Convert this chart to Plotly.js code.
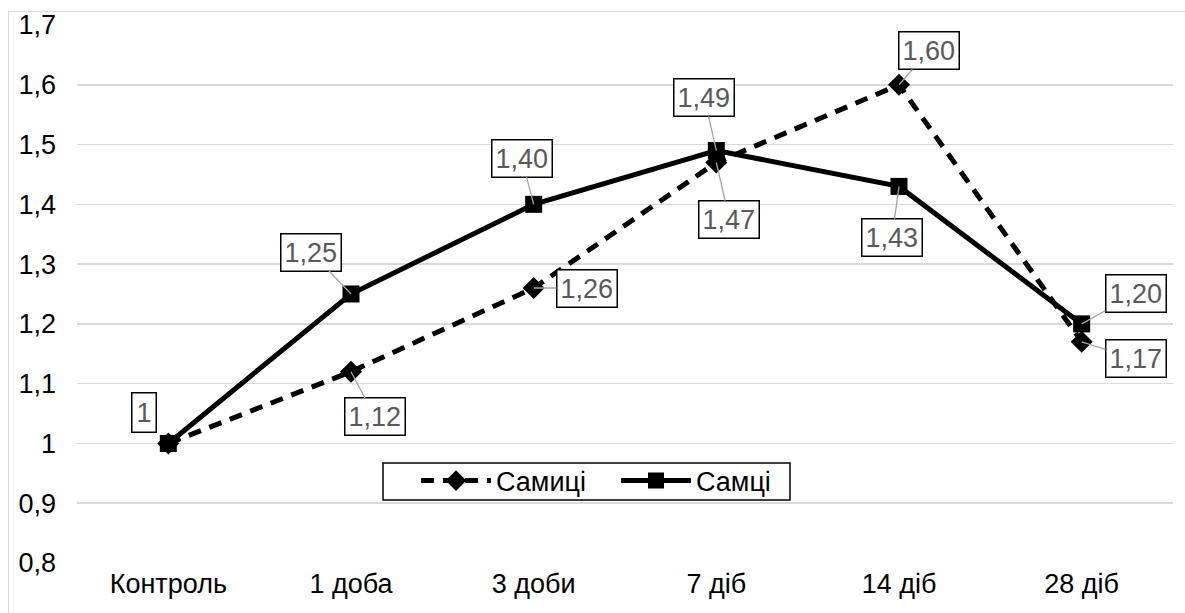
<!DOCTYPE html>
<html>
<head>
<meta charset="utf-8">
<script src="https://cdn.plot.ly/plotly-3.0.1.min.js"></script>
<style>
html,body{margin:0;padding:0;background:#fff;overflow:hidden;}
#frame{position:absolute;left:8px;top:11px;width:1300px;height:800px;border-left:1px solid #d9d9d9;border-top:1px solid #d9d9d9;pointer-events:none;z-index:5;}
#chart{position:absolute;left:0;top:0;width:1185px;height:613px;}
</style>
</head>
<body>
<div id="chart"></div>
<div id="frame"></div>
<script>
const categories = ['Контроль', '1 доба', '3 доби', '7 діб', '14 діб', '28 діб'];
const femaleName = 'Самиці';
const maleName = 'Самці';
const femaleValues = [1, 1.12, 1.26, 1.47, 1.60, 1.17];
const maleValues = [1, 1.25, 1.40, 1.49, 1.43, 1.20];
const femaleLabels = ['1', '1,12', '1,26', '1,47', '1,60', '1,17'];
const maleLabels = ['1', '1,25', '1,40', '1,49', '1,43', '1,20'];

// label offsets (pixels) relative to point; null = no label
const femaleOffsets = [null, [24, 45], [53, 0], [13, 57], [30, -34], [54, 17]];
const maleOffsets = [[-24, -31], [-40, -42], [-12, -46], [-12, -53], [-7, 51], [54, -30]];

const font = 'Liberation Sans, Arial, sans-serif';

const traces = [
  {
    x: categories, y: femaleValues, name: femaleName, type: 'scatter', mode: 'lines+markers',
    line: {color: '#000', width: 5, dash: '13px,9px'},
    marker: {symbol: 'diamond', size: 17, color: '#000'}
  },
  {
    x: categories, y: maleValues, name: maleName, type: 'scatter', mode: 'lines+markers',
    line: {color: '#000', width: 5},
    marker: {symbol: 'square', size: 17, color: '#000'}
  }
];

const annotations = [];
function addLabels(values, labels, offsets) {
  values.forEach((v, i) => {
    const off = offsets[i];
    if (!off) return;
    const base = {
      x: categories[i], y: v, xref: 'x', yref: 'y', text: labels[i],
      font: {family: font, size: 27, color: '#595959'},
      bgcolor: '#fff', bordercolor: '#000', borderwidth: 1.5, borderpad: 3
    };
    if (i === 0) {
      annotations.push(Object.assign(base, {showarrow: false, xshift: off[0], yshift: -off[1], borderpad: 4}));
    } else {
      annotations.push(Object.assign(base, {
        showarrow: true, ax: off[0], ay: off[1], arrowhead: 0,
        arrowcolor: '#a6a6a6', arrowwidth: 1.3, standoff: 0
      }));
    }
  });
}
addLabels(femaleValues, femaleLabels, femaleOffsets);
addLabels(maleValues, maleLabels, maleOffsets);

// legend frame (pixel box converted to paper fractions)
const plotL = 77, plotT = 25, plotW = 1185 - 77 - 12, plotH = 613 - 25 - 50;
const px = v => (v - plotL) / plotW;
const py = v => 1 - (v - plotT) / plotH;

const layout = {
  width: 1185, height: 613,
  margin: {l: 77, r: 12, t: 25, b: 50},
  paper_bgcolor: '#fff', plot_bgcolor: '#fff',
  separators: ', ',
  font: {family: font, size: 27, color: '#000'},
  showlegend: true,
  legend: {
    orientation: 'h', x: px(416), y: py(481), xanchor: 'left', yanchor: 'middle',
    borderwidth: 0, bgcolor: 'rgba(0,0,0,0)',
    font: {family: font, size: 27, color: '#000'},
    itemwidth: 70, entrywidth: 115, entrywidthmode: 'pixels', tracegroupgap: 0
  },
  shapes: [{
    type: 'rect', xref: 'paper', yref: 'paper', layer: 'above',
    x0: px(383), x1: px(790), y0: py(463), y1: py(500),
    line: {color: '#000', width: 1.5}, fillcolor: '#fff'
  }],
  xaxis: {
    type: 'category', range: [-0.5, 5.5], showgrid: false, zeroline: false, showline: false,
    ticks: '', tickfont: {family: font, size: 27, color: '#000'}, ticklabelstandoff: 2
  },
  yaxis: {
    range: [0.8, 1.7], dtick: 0.1, tick0: 0.8, showgrid: true, gridcolor: '#d9d9d9', gridwidth: 1.5,
    zeroline: false, showline: false, ticks: '', ticklabelstandoff: 20,
    tickfont: {family: font, size: 27, color: '#000'}
  },
  annotations: annotations
};

Plotly.newPlot('chart', traces, layout, {displayModeBar: false, staticPlot: true});
</script>
</body>
</html>
